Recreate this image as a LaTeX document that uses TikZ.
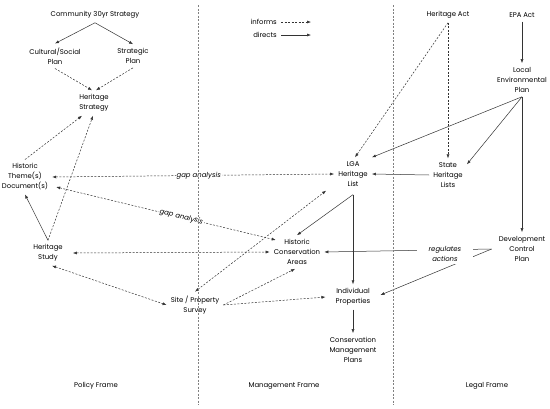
\documentclass[tikz,border=0pt]{standalone}
\usepackage{fontspec}
\setmainfont{Poppins}
\usetikzlibrary{arrows.meta}
\begin{document}
\begin{tikzpicture}[x=1pt,y=-1pt,
  box/.style={align=center,inner sep=4pt,font=\fontsize{6.9}{10}\selectfont,text=black},
  lbl/.style={font=\fontsize{6.9}{10}\selectfont\itshape,text=black},
  con/.style={line width=0.5pt,draw=black!80,-{Latex[length=4pt,width=3pt]}},
  dcon/.style={con,dash pattern=on 2pt off 1.5pt},
  ddcon/.style={dcon,{Latex[length=4pt,width=3pt]}-{Latex[length=4pt,width=3pt]}},
  frame/.style={line width=0.5pt,draw=black!50,dash pattern=on 2pt off 1.5pt}]
\useasboundingbox (0,0) rectangle (550,408);
\fill[white] (0,0) rectangle (550,408);
% nodes
\node[box] (comm) at (95,15) {Community 30yr Strategy};
\node[box] (cult) at (55,56) {Cultural/Social\\Plan};
\node[box] (strat) at (133,56) {Strategic\\Plan};
\node[box] (hstrat) at (94,103) {Heritage\\Strategy};
\node[box] (htheme) at (25,177) {Historic\\Theme(s)\\Document(s)};
\node[box] (hstudy) at (48,253) {Heritage\\Study};
\node[box] (site) at (195,305) {Site / Property\\Survey};
\node[box] (hca) at (297,252) {Historic\\Conservation\\Areas};
\node[box] (lga) at (353,174) {LGA\\Heritage\\List};
\node[box] (ip) at (353,297) {Individual\\Properties};
\node[box] (cmp) at (353,350) {Conservation\\Management\\Plans};
\node[box] (hact) at (448,15) {Heritage Act};
\node[box] (epa) at (522,15) {EPA Act};
\node[box] (lep) at (522,80) {Local\\Environmental\\Plan};
\node[box] (shl) at (448,175) {State\\Heritage\\Lists};
\node[box] (dcp) at (522,249) {Development\\Control\\Plan};
% legend
\node[box,anchor=east] (inf) at (281,22) {informs};
\node[box,anchor=east] (dir) at (281,35) {directs};
\coordinate (infE) at (311,22);
\coordinate (dirE) at (311,35);
\draw[dcon] (inf.east) -- (infE);
\draw[con] (dir.east) -- (dirE);
% policy connectors
\draw[con] (comm.south) -- (cult.north);
\draw[con] (comm.south) -- (strat.north);
\draw[dcon] (cult.south) -- ([xshift=-2pt]hstrat.north);
\draw[dcon] (strat.south) -- ([xshift=2pt]hstrat.north);
\draw[dcon] (htheme.north) -- ([xshift=-12pt]hstrat.south);
\draw[dcon] (hstudy.north) -- ([xshift=-1pt]hstrat.south);
\draw[con] (hstudy.north) -- (htheme.south);
\draw[ddcon] (htheme.east) -- node[lbl,fill=white,pos=0.52,inner sep=1pt] {gap analysis} (lga.west);
\draw[ddcon] ([xshift=4pt,yshift=-10pt]htheme.east) -- node[lbl,fill=white,pos=0.57,sloped,inner sep=1pt] {gap analysis} ([xshift=6pt,yshift=12pt]hca.west);
\draw[ddcon] ([xshift=6pt]hstudy.east) -- (hca.west);
\draw[ddcon] ([xshift=4pt]hstudy.south) -- (site.west);
\draw[ddcon] (site.north) -- ([xshift=-8pt]lga.south west);
\draw[dcon] (site.east) -- ([xshift=-2pt]hca.south);
\draw[dcon] (site.east) -- ([xshift=-6pt]ip.west);
% management / legal connectors
\coordinate (lgaS) at ([yshift=-4pt]lga.south);
\draw[con] (lgaS) -- (hca.north);
\draw[con] (lgaS) -- (ip.north);
\draw[con] (ip.south) -- (cmp.north);
\draw[dcon] (hact.south) -- ([xshift=2pt]lga.north);
\draw[dcon] (hact.south) -- (shl.north);
\draw[con] (epa.south) -- (lep.north);
\draw[con] (lep.south) -- (lga.north east);
\draw[con] (lep.south) -- ([yshift=-6pt]shl.north east);
\draw[con] (lep.south) -- (dcp.north);
\draw[con] (shl.west) -- (lga.east);
\coordinate (dcpW) at ([xshift=-3pt]dcp.west);
\draw[con] (dcpW) -- (hca.east);
\draw[con] (dcpW) -- ([xshift=6pt,yshift=2pt]ip.east);
\node[lbl,align=center,fill=white,inner xsep=12pt,inner ysep=2pt] (reg) at (445,254) {regulates\\actions};
% frames
\coordinate (f1t) at (198,5); \coordinate (f1b) at (198,405);
\coordinate (f2t) at (393,5); \coordinate (f2b) at (393,405);
\draw[frame] (f1t) -- (f1b);
\draw[frame] (f2t) -- (f2b);
\node[box] (pf) at (96,386) {Policy Frame};
\node[box] (mf) at (284,386) {Management Frame};
\node[box] (lf) at (487,386) {Legal Frame};
\end{tikzpicture}
\end{document}
